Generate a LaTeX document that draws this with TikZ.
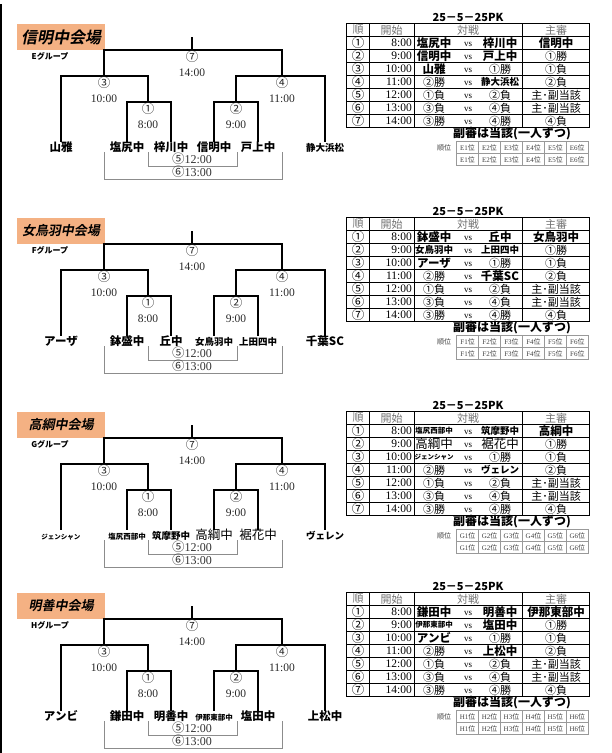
\documentclass[tikz,border=0pt]{standalone}
\usepackage{fontspec}
\setmainfont{Liberation Serif}
\newfontfamily\cjk{Noto Sans CJK JP}
\newfontfamily\cjksl[FakeSlant=0.2]{Noto Sans CJK JP Bold}
\usetikzlibrary{calc}
\definecolor{venue}{RGB}{244,177,131}
\def\tb{\fontsize{11.5pt}{12pt}\selectfont}
\def\sm{\fontsize{9.5pt}{10pt}\selectfont}
\def\xs{\fontsize{7.5pt}{8pt}\selectfont}
\def\xxs{\fontsize{6.5pt}{7pt}\selectfont}
\def\rg{\fontsize{12.5pt}{13pt}\selectfont\mdseries}
\def\tbig{\fontsize{16pt}{16pt}\selectfont}
\def\cn{\cjk\fontsize{12.5pt}{12.5pt}\selectfont}
\tikzset{
	tree/.style={line width=1.5pt},
	gline/.style={draw=black!45, line width=0.7pt},
	team/.style={inner sep=0pt, text height=9pt, text depth=3pt, font=\cjk\bfseries\tb},
	match/.style={inner sep=0pt, align=center, text=black!85, font=\fontsize{11.5pt}{15pt}\selectfont},
	gnum/.style={inner sep=0pt, text=black!80, font=\fontsize{12pt}{12pt}\selectfont},
	venuebox/.style={fill=venue, inner sep=0pt, minimum width=88pt, minimum height=26pt, font=\cjksl\fontsize{13pt}{13pt}\selectfont},
	hd/.style={inner sep=0pt, text=black!55, font=\cjk\fontsize{11pt}{11pt}\selectfont},
	num/.style={inner sep=0pt, font=\cjk\fontsize{12.5pt}{12.5pt}\selectfont},
	tm/.style={inner sep=0pt, anchor=east, font=\fontsize{11.5pt}{11.5pt}\selectfont},
	tn/.style={inner sep=0pt, font=\cjk\bfseries\tb},
	rs/.style={inner sep=0pt, font=\cjk\fontsize{11pt}{11pt}\selectfont},
	vsx/.style={inner sep=0pt, font=\fontsize{9pt}{9pt}\selectfont},
	rk/.style={inner sep=0pt, text=black!75, font=\fontsize{7pt}{7pt}\selectfont}
}
\def\nobig{\let\sm\relax\let\xs\relax\let\xxs\relax\def\rg{\bfseries}}
% one venue: shift, title, group, six teams
\def\grp#1#2#3#4#5#6#7#8#9{%
	\begin{scope}[yshift=-#1pt]
	\node[venuebox] (#3box) at (61,37) {#2};
	\node[inner sep=0pt, font=\cjk\bfseries\fontsize{8pt}{8pt}\selectfont] (#3grp) at (50,56) {#3グループ};
	
	\coordinate (#3j7) at (192,50);
	\coordinate (#3j3) at (104,76);
	\coordinate (#3j4) at (282,76);
	\coordinate (#3j1) at (148,102);
	\coordinate (#3j2) at (236,102);
	\node[team] (#3t1) at (61,148) {#4};
	\node[team] (#3t2) at (127,148) {#5};
	\node[team] (#3t3) at (171,148) {#6};
	\node[team] (#3t4) at (214,148) {#7};
	\node[team] (#3t5) at (258,148) {#8};
	\node[team] (#3t6) at (325,148) {#9};
	\draw[tree] (#3j7) -- ++(0,-13);
	\draw[tree] (#3j3) |- (#3j7) -| (#3j4);
	\draw[tree] (#3t1.north) |- (#3j3) -| (#3j1);
	\draw[tree] (#3t2.north) |- (#3j1) -| (#3t3.north);
	\draw[tree] (#3j2) |- (#3j4) -| (#3t6.north);
	\draw[tree] (#3t4.north) |- (#3j2) -| (#3t5.north);
	\node[match] (#3m7) at (192,63.5) {{\cn ⑦}\\14:00};
	\node[match] (#3m3) at (104,89.5) {{\cn ③}\\10:00};
	\node[match] (#3m4) at (282,89.5) {{\cn ④}\\11:00};
	\node[match] (#3m1) at (148,115.5) {{\cn ①}\\8:00};
	\node[match] (#3m2) at (236,115.5) {{\cn ②}\\9:00};
	
	\coordinate (#3a5) at (148,152);
	\coordinate (#3b5) at (237,152);
	\coordinate (#3a6) at (104,152);
	\coordinate (#3b6) at (282,152);
	\draw[gline] (#3a5) -- ++(0,14) -| (#3b5);
	\draw[gline] (#3a6) -- ++(0,27) -| (#3b6);
	\node[gnum] (#3m5) at (192,159) {{\cn ⑤}12:00};
	\node[gnum] (#3m6) at (192,172) {{\cn ⑥}13:00};
	
	%%%%% table %%%%%
	\node[inner sep=0pt, font=\cjk\bfseries\fontsize{11pt}{11pt}\selectfont] (#3date) at (468,17) {25－5－25PK};
	\draw[line width=0.8pt] (346.7,36.5) -- (589.3,36.5);
	\draw[line width=0.8pt] (346.7,49.5) -- (589.3,49.5);
	\draw[line width=0.8pt] (346.7,62.5) -- (589.3,62.5);
	\draw[line width=0.8pt] (346.7,75.5) -- (589.3,75.5);
	\draw[line width=0.8pt] (346.7,88.5) -- (589.3,88.5);
	\draw[line width=0.8pt] (346.7,101.5) -- (589.3,101.5);
	\draw[line width=0.8pt] (346.7,114.5) -- (589.3,114.5);
	\draw[line width=0.7pt] (369.3,23.5) -- (369.3,127.5);
	\draw[line width=0.7pt] (414,23.5) -- (414,127.5);
	\draw[line width=0.7pt] (522.7,23.5) -- (522.7,127.5);
	\draw[line width=1.4pt] (346.7,23.5) rectangle (589.3,127.5);
	\node[hd] (#3h1) at (358,30) {順};
	\node[hd] (#3h2) at (391.7,30) {開始};
	\node[hd] (#3h3) at (468,30) {対戦};
	\node[hd] (#3h4) at (556,30) {主審};
	
	\node[num] (#3n1) at (358,43) {①};
	\node[tm] (#3s1) at (412,43) {8:00};
	\node[tn] (#3a1) at (434,43) {#5};
	\node[vsx] (#3v1) at (468,44) {vs};
	\node[tn] (#3b1) at (500,43) {#6};
	\node[tn] (#3r1) at (556,43) {\nobig #7};
	
	\node[num] (#3n2) at (358,56) {②};
	\node[tm] (#3s2) at (412,56) {9:00};
	\node[tn] (#3a2) at (434,56) {#7};
	\node[vsx] (#3v2) at (468,57) {vs};
	\node[tn] (#3b2) at (500,56) {#8};
	\node[rs] (#3r2) at (556,56) {①勝};
	
	\node[num] (#3n3) at (358,69) {③};
	\node[tm] (#3s3) at (412,69) {10:00};
	\node[tn] (#3a3) at (434,69) {#4};
	\node[vsx] (#3v3) at (468,70) {vs};
	\node[rs] (#3b3) at (500,69) {①勝};
	\node[rs] (#3r3) at (556,69) {①負};
	
	\node[num] (#3n4) at (358,82) {④};
	\node[tm] (#3s4) at (412,82) {11:00};
	\node[rs] (#3a4) at (434,82) {②勝};
	\node[vsx] (#3v4) at (468,83) {vs};
	\node[tn] (#3b4) at (500,82) {#9};
	\node[rs] (#3r4) at (556,82) {②負};
	
	\node[num] (#3n5) at (358,95) {⑤};
	\node[tm] (#3s5) at (412,95) {12:00};
	\node[rs] (#3a5t) at (434,95) {①負};
	\node[vsx] (#3v5) at (468,96) {vs};
	\node[rs] (#3b5t) at (500,95) {②負};
	\node[rs] (#3r5) at (556,95) {主･副当該};
	
	\node[num] (#3n6) at (358,108) {⑥};
	\node[tm] (#3s6) at (412,108) {13:00};
	\node[rs] (#3a6t) at (434,108) {③負};
	\node[vsx] (#3v6) at (468,109) {vs};
	\node[rs] (#3b6t) at (500,108) {④負};
	\node[rs] (#3r6) at (556,108) {主･副当該};
	
	\node[num] (#3n7) at (358,121) {⑦};
	\node[tm] (#3s7) at (412,121) {14:00};
	\node[rs] (#3a7) at (434,121) {③勝};
	\node[vsx] (#3v7) at (468,122) {vs};
	\node[rs] (#3b7) at (500,121) {④勝};
	\node[rs] (#3r7) at (556,121) {④負};
	
	%%%%% ranks %%%%%
	\node[inner sep=0pt, font=\cjk\bfseries\fontsize{12pt}{12pt}\selectfont] (#3sub) at (512,133.5) {副審は当該(一人ずつ)};
	\node[rk, font=\cjk\fontsize{7pt}{7pt}\selectfont] (#3rk) at (444,147.5) {順位};
	\draw[draw=black!40, line width=0.5pt] (456.7,141.5) rectangle (588.3,165.5);
	\draw[draw=black!40, line width=0.5pt] (456.7,153.5) -- (588.3,153.5);
	\draw[draw=black!40, line width=0.5pt] (478.6,141.5) -- (478.6,165.5);
	\draw[draw=black!40, line width=0.5pt] (500.6,141.5) -- (500.6,165.5);
	\draw[draw=black!40, line width=0.5pt] (522.5,141.5) -- (522.5,165.5);
	\draw[draw=black!40, line width=0.5pt] (544.4,141.5) -- (544.4,165.5);
	\draw[draw=black!40, line width=0.5pt] (566.4,141.5) -- (566.4,165.5);
	\node[rk] (#3c11) at (467.6,147.5) {#31{\cjk 位}};
	\node[rk] (#3c12) at (489.6,147.5) {#32{\cjk 位}};
	\node[rk] (#3c13) at (511.5,147.5) {#33{\cjk 位}};
	\node[rk] (#3c14) at (533.5,147.5) {#34{\cjk 位}};
	\node[rk] (#3c15) at (555.4,147.5) {#35{\cjk 位}};
	\node[rk] (#3c16) at (577.3,147.5) {#36{\cjk 位}};
	\node[rk] (#3c21) at (467.6,159.5) {#31{\cjk 位}};
	\node[rk] (#3c22) at (489.6,159.5) {#32{\cjk 位}};
	\node[rk] (#3c23) at (511.5,159.5) {#33{\cjk 位}};
	\node[rk] (#3c24) at (533.5,159.5) {#34{\cjk 位}};
	\node[rk] (#3c25) at (555.4,159.5) {#35{\cjk 位}};
	\node[rk] (#3c26) at (577.3,159.5) {#36{\cjk 位}};
	\end{scope}}

\begin{document}
\begin{tikzpicture}[x=1pt, y=-1pt]
	%%%%% START %%%%%
	\useasboundingbox (0,0) rectangle (611,753);
	\draw[line width=1.2pt] (1,4) -- (1,753);
	
	\grp{0}{\tbig 信明中会場}{E}{山雅}{塩尻中}{梓川中}{信明中}{戸上中}{\sm 静大浜松}
	\grp{194}{女鳥羽中会場}{F}{アーザ}{鉢盛中}{丘中}{\sm 女鳥羽中}{\sm 上田四中}{千葉SC}
	\grp{388}{高綱中会場}{G}{\xxs ジェンシャン}{\xs 塩尻西部中}{\sm 筑摩野中}{\rg 高綱中}{\rg 裾花中}{\sm ヴェレン}
	\grp{569}{明善中会場}{H}{アンビ}{鎌田中}{明善中}{\xs 伊那東部中}{塩田中}{上松中}
	
	%%%%% END %%%%%
\end{tikzpicture}
\end{document}
